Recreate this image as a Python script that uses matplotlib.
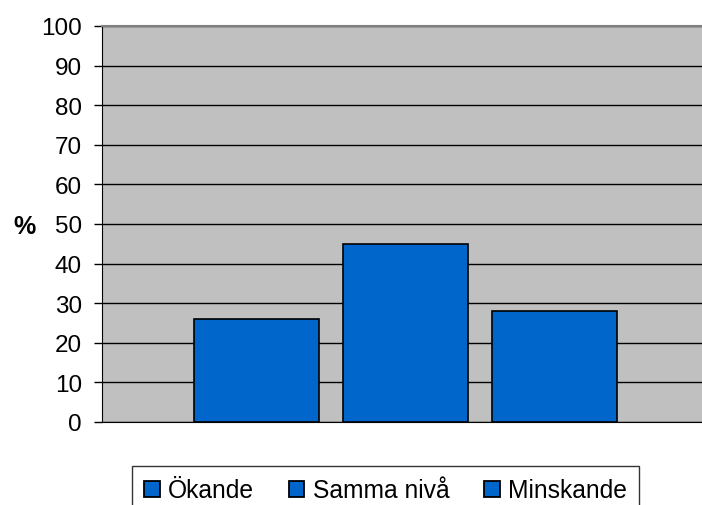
import matplotlib
matplotlib.use("Agg")
import matplotlib.pyplot as plt

series = ["Ökande", "Samma nivå", "Minskande"]
values = [26, 45, 28]
yticks = list(range(0, 101, 10))

plt.rcParams['font.family'] = ['Liberation Sans', 'DejaVu Sans']

W, H = 702, 506
fig = plt.figure(figsize=(W/100, H/100), dpi=100)
left, right, top, bottom = 102, 709, 27, 423
ax = fig.add_axes([left/W, 1-bottom/H, (right-left)/W, (bottom-top)/H])
ax.set_facecolor('#C0C0C0')

blue = '#0066CC'
for i, (s, v) in enumerate(zip(series, values)):
    ax.bar(i, v, width=0.84, color=blue, edgecolor='black', linewidth=1.2, label=s, zorder=3)

ax.set_xlim(-1.034, 3.034)
ax.set_ylim(0, 100)
ax.set_yticks(yticks)
ax.set_yticklabels([str(t) for t in yticks], fontsize=17.5)
ax.yaxis.grid(True, color='black', linewidth=1.0, zorder=1)
ax.set_axisbelow(True)
ax.set_xticks([])
ax.tick_params(axis='y', length=6, width=1, color='black', pad=8.5)
ax.spines['left'].set_color('black')
ax.spines['bottom'].set_color('black')
ax.spines['top'].set_color('#808080')
ax.spines['top'].set_linewidth(1.5)
ax.spines['right'].set_visible(False)

fig.text(24/W, 1-227/H, '%', fontsize=18, fontweight='bold', ha='center', va='center')

leg = fig.legend(loc='upper left', bbox_to_anchor=(132/W, 1-467/H), ncol=3,
                 fontsize=17.7, frameon=True, fancybox=False, edgecolor='black',
                 handlelength=0.62, handleheight=0.62, handletextpad=0.35,
                 columnspacing=1.42, borderpad=0.5, borderaxespad=0)
leg.get_frame().set_linewidth(1.0)
for h in leg.legend_handles:
    h.set_linewidth(1.3)

fig.savefig('out.png', dpi=100)
